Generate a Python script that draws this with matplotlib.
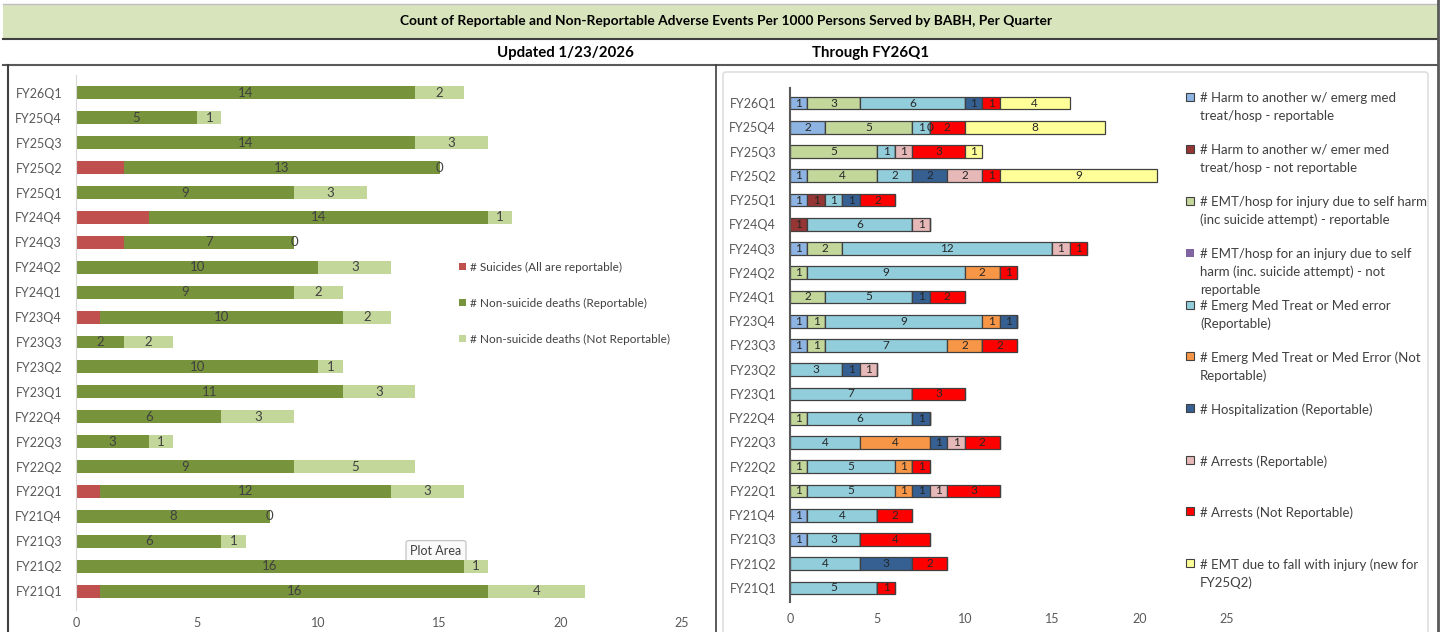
import matplotlib
matplotlib.use("Agg")
import matplotlib.pyplot as plt
import numpy as np
from matplotlib.patches import Rectangle, FancyBboxPatch

plt.rcParams["font.family"] = ["Lato", "DejaVu Sans"]

# quarters, oldest first (drawn bottom to top)
quarters = [
    "FY21Q1", "FY21Q2", "FY21Q3", "FY21Q4",
    "FY22Q1", "FY22Q2", "FY22Q3", "FY22Q4",
    "FY23Q1", "FY23Q2", "FY23Q3", "FY23Q4",
    "FY24Q1", "FY24Q2", "FY24Q3", "FY24Q4",
    "FY25Q1", "FY25Q2", "FY25Q3", "FY25Q4",
    "FY26Q1",
]

# left chart: deaths
suicides = [1, 0, 0, 0, 1, 0, 0, 0, 0, 0, 0, 1, 0, 0, 2, 3, 0, 2, 0, 0, 0]
nonsuicide_rep = [16, 16, 6, 8, 12, 9, 3, 6, 11, 10, 2, 10, 9, 10, 7, 14, 9, 13, 14, 5, 14]
nonsuicide_notrep = [4, 1, 1, 0, 3, 5, 1, 3, 3, 1, 2, 2, 2, 3, 0, 1, 3, 0, 3, 1, 2]

left_labels = [
    "# Suicides (All are reportable)",
    "# Non-suicide deaths (Reportable)",
    "# Non-suicide deaths (Not Reportable)",
]
left_colors = ["#C0504D", "#77933C", "#C4D79B"]

# right chart: other adverse events (None = blank cell)
N = None
harm_rep = [N, N, 1, 1, N, N, N, N, N, N, 1, 1, N, N, 1, N, 1, 1, N, 2, 1]
harm_notrep = [N, N, N, N, N, N, N, N, N, N, N, N, N, N, N, 1, 1, N, N, N, N]
emt_self_rep = [N, N, N, N, 1, 1, N, 1, N, N, 1, 1, 2, 1, 2, N, N, 4, 5, 5, 3]
emt_self_notrep = [N] * 21
emerg_rep = [5, 4, 3, 4, 5, 5, 4, 6, 7, 3, 7, 9, 5, 9, 12, 6, 1, 2, 1, 1, 6]
emerg_notrep = [N, N, N, N, 1, 1, 4, N, N, N, 2, 1, N, 2, N, N, N, N, N, 0, N]
hosp_rep = [N, 3, N, N, 1, N, 1, 1, N, 1, N, 1, 1, N, N, N, 1, 2, N, N, 1]
arrests_rep = [N, N, N, N, 1, N, 1, N, N, 1, N, N, N, N, 1, 1, N, 2, 1, N, N]
arrests_notrep = [1, 2, 4, 2, 3, 1, 2, N, 3, N, 2, N, 2, 1, 1, N, 2, 1, 3, 2, 1]
emt_fall = [N, N, N, N, N, N, N, N, N, N, N, N, N, N, N, N, N, 9, 1, 8, 4]

right_series = [
    harm_rep, harm_notrep, emt_self_rep, emt_self_notrep, emerg_rep,
    emerg_notrep, hosp_rep, arrests_rep, arrests_notrep, emt_fall,
]
right_labels = [
    "# Harm to another w/ emerg med\ntreat/hosp - reportable",
    "# Harm to another w/ emer med\ntreat/hosp - not reportable",
    "# EMT/hosp for injury due to self harm\n(inc suicide attempt) - reportable",
    "# EMT/hosp for an injury due to self\nharm (inc. suicide attempt) - not\nreportable",
    "# Emerg Med Treat or Med error\n(Reportable)",
    "# Emerg Med Treat or Med Error (Not\nReportable)",
    "# Hospitalization (Reportable)",
    "# Arrests (Reportable)",
    "# Arrests (Not Reportable)",
    "# EMT due to fall with injury (new for\nFY25Q2)",
]
right_colors = [
    "#8DB4E2", "#963634", "#C4D79B", "#8064A2", "#92CDDC",
    "#F79646", "#366092", "#E6B8B7", "#FF0000", "#FFFF99",
]

W, H = 1442, 632
TXT = "#595959"


def px_rect(left, top, right, bottom):
    return [left / W, 1 - bottom / H, (right - left) / W, (bottom - top) / H]


fig = plt.figure(figsize=(W / 100, H / 100), dpi=100)

# page frame, header band and dividers drawn in pixel coordinates
bg = fig.add_axes([0, 0, 1, 1], zorder=0)
bg.set_xlim(0, W)
bg.set_ylim(H, 0)
bg.axis("off")
bg.add_patch(Rectangle((3, 4), 1435, 35, facecolor="#D8E4BC", edgecolor="none"))
bg.plot([3, 1438], [4, 4], color="#BFBFBF", lw=1)
bg.plot([3, 1438], [39, 39], color="#404040", lw=1.5)
bg.plot([3, 1438], [65, 65], color="#595959", lw=1.5)
bg.plot([1438, 1438], [0, H], color="#595959", lw=2)
bg.plot([8, 8], [65, H], color="#404040", lw=1.5)
bg.plot([716, 716], [65, H], color="#404040", lw=1.2)
bg.add_patch(FancyBboxPatch((723, 72), 705, 580, boxstyle="round,pad=0,rounding_size=3",
                            facecolor="none", edgecolor="#D9D9D9", lw=1))

head = ["Liberation Sans Narrow", "Lato", "DejaVu Sans"]
bg.text(726, 21, "Count of Reportable and Non-Reportable Adverse Events Per 1000 Persons Served by BABH, Per Quarter",
        ha="center", va="center", fontsize=9.9, fontweight="bold", family=head, color="black")
bg.text(565, 53, "Updated 1/23/2026", ha="center", va="center", fontsize=10.8,
        fontweight="bold", family=head, color="black")
bg.text(871, 53, "Through FY26Q1", ha="center", va="center", fontsize=10.8,
        fontweight="bold", family=head, color="black")

y = np.arange(len(quarters))

# ---- left chart ----
ax1 = fig.add_axes(px_rect(76, 75, 682, 610), zorder=1)
ax1.patch.set_alpha(0)
left_vals = [suicides, nonsuicide_rep, nonsuicide_notrep]
left = np.zeros(len(quarters))
for i, (vals, col) in enumerate(zip(left_vals, left_colors)):
    v = np.array(vals, dtype=float)
    bars = ax1.barh(y, v, left=left, height=0.52, color=col, edgecolor="none")
    if i > 0:
        ax1.bar_label(bars, labels=[str(int(a)) for a in v], label_type="center",
                      fontsize=9.5, color="#404040")
    left += v
ax1.set_xlim(0, 25)
ax1.set_ylim(-0.76, 20.72)
ax1.set_xticks([0, 5, 10, 15, 20, 25])
ax1.set_yticks(y)
ax1.set_yticklabels(quarters)
ax1.tick_params(length=0, labelsize=9, colors=TXT)
ax1.tick_params(axis="y", pad=10)
ax1.tick_params(axis="x", pad=5)
for s in ["top", "right", "bottom"]:
    ax1.spines[s].set_visible(False)
ax1.spines["left"].set_color("#D9D9D9")

for k, (lab, col) in enumerate(zip(left_labels, left_colors)):
    yy = 267 + k * 36
    bg.add_patch(Rectangle((459, yy - 4), 7, 7, facecolor=col, edgecolor="none"))
    bg.text(470, yy, lab, ha="left", va="center", fontsize=8.5, color="#404040")

# tooltip left over from the screenshot
bg.text(436, 551, "Plot Area", ha="center", va="center", fontsize=9, color="#404040",
        bbox=dict(boxstyle="round,pad=0.35,rounding_size=0.2", facecolor="#FAFAFA",
                  edgecolor="#BFBFBF", lw=0.8))

# ---- right chart ----
ax2 = fig.add_axes(px_rect(790, 88, 1227, 602), zorder=1)
ax2.patch.set_alpha(0)
left = np.zeros(len(quarters))
for vals, col in zip(right_series, right_colors):
    v = np.array([0 if a is None else a for a in vals], dtype=float)
    labs = ["" if a is None else str(a) for a in vals]
    bars = ax2.barh(y, v, left=left, height=0.52, color=col, edgecolor="#404040", lw=0.9)
    ax2.bar_label(bars, labels=labs, label_type="center", fontsize=8.5, color="#262626")
    left += v
ax2.set_xlim(0, 25)
ax2.set_ylim(-0.58, 20.62)
ax2.set_xticks([0, 5, 10, 15, 20, 25])
ax2.set_yticks(y)
ax2.set_yticklabels(quarters)
ax2.tick_params(length=0, labelsize=9, colors=TXT)
ax2.tick_params(axis="y", pad=10)
ax2.tick_params(axis="x", pad=8)
for s in ["top", "right", "bottom"]:
    ax2.spines[s].set_visible(False)
ax2.spines["left"].set_color("#595959")
ax2.spines["left"].set_linewidth(1.5)

legend_y = [97, 149, 201, 253, 305, 356, 408, 460, 511, 563]
for yy, lab, col in zip(legend_y, right_labels, right_colors):
    edge = "none" if col == "#8064A2" else "#404040"
    bg.add_patch(Rectangle((1186, yy - 4), 8, 8, facecolor=col, edgecolor=edge, lw=0.8))
    bg.text(1200, yy - 5, lab, ha="left", va="top", fontsize=9.5, color="#404040",
            linespacing=1.55)

fig.savefig("out.png", dpi=100)
